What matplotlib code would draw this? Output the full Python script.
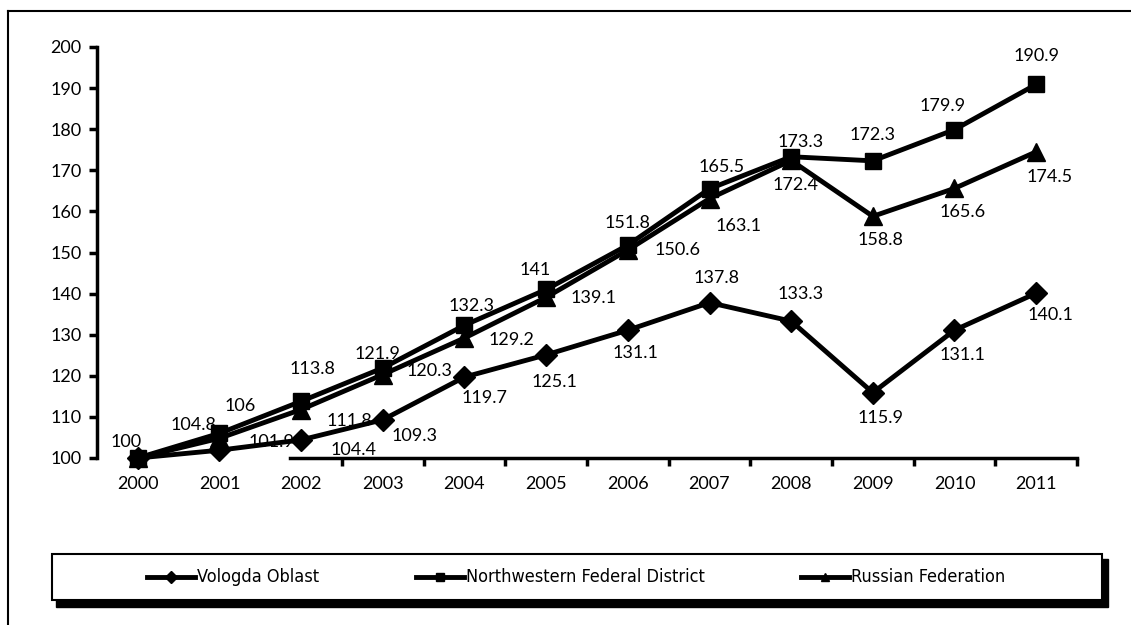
import matplotlib.pyplot as plt
from matplotlib.lines import Line2D
from matplotlib.patches import Rectangle

# Datos
years = ['2000', '2001', '2002', '2003', '2004', '2005', '2006', '2007', '2008', '2009', '2010', '2011']
vologda = [100, 101.9, 104.4, 109.3, 119.7, 125.1, 131.1, 137.8, 133.3, 115.9, 131.1, 140.1]
nwfd = [100, 106, 113.8, 121.9, 132.3, 141, 151.8, 165.5, 173.3, 172.3, 179.9, 190.9]
russia = [100, 104.8, 111.8, 120.3, 129.2, 139.1, 150.6, 163.1, 172.4, 158.8, 165.6, 174.5]
names = ['Vologda Oblast', 'Northwestern Federal District', 'Russian Federation']
markers = ['D', 's', '^']

# desplazamiento de cada etiqueta (pixeles)
off_vologda = [None, (52, 8), (52, -10), (32, -16), (20, -21), (8, -27), (8, -23),
               (7, 25), (9, 27), (8, -25), (8, -25), (14, -22)]
off_nwfd = [(-12, 16), (21, 27), (11, 32), (-5, 14), (7, 19), (-11, 19), (0, 22),
            (12, 22), (9, 15), (0, 26), (-12, 24), (0, 28)]
off_russia = [None, (-26, 13), (48, -11), (47, 4), (47, -2), (47, -1), (50, 0),
              (29, -27), (4, -25), (8, -24), (8, -24), (13, -25)]

W, H = 1131, 625
font = 'Lato'
fig = plt.figure(figsize=(W / 100, H / 100), dpi=100)
ax = fig.add_axes([97 / W, 1 - 458 / H, 980 / W, 411 / H])

x = list(range(len(years)))
sizes = [11, 11, 13]
for vals, m, s in zip([vologda, nwfd, russia], markers, sizes):
    ax.plot(x, vals, color='black', lw=3.5, marker=m, ms=s, clip_on=False, zorder=3)

for vals, offs in [(vologda, off_vologda), (nwfd, off_nwfd), (russia, off_russia)]:
    for i, v in enumerate(vals):
        if offs[i] is None:
            continue
        ax.annotate(f'{v:g}', (i, v), xytext=offs[i], textcoords='offset pixels',
                    ha='center', va='center', fontsize=13, family=font, zorder=2)

ax.set_xlim(-0.5, 11.5)
ax.set_ylim(100, 200)
ax.set_yticks(range(100, 201, 10))
# el eje x aparece cortado a la izquierda en el original
ax.spines['bottom'].set_bounds(1.86, 11.5)
ax.set_xticks([i + 0.5 for i in range(2, 12)])
ax.set_xticklabels([])
ax.set_xticks(x, minor=True)
ax.set_xticklabels(years, minor=True)
ax.tick_params(axis='x', which='minor', length=0, pad=13, labelsize=13)
ax.tick_params(axis='x', which='major', length=6, width=2.5, direction='out')
ax.tick_params(axis='y', length=6, width=2.5, direction='out', labelsize=13, pad=5)
for lab in ax.get_xticklabels(minor=True) + ax.get_yticklabels():
    lab.set_family(font)
for s in ['top', 'right']:
    ax.spines[s].set_visible(False)
for s in ['left', 'bottom']:
    ax.spines[s].set_linewidth(2.5)

# marco exterior (cortado a la derecha y abajo)
fig.add_artist(Line2D([8 / W, 8 / W], [0, 1 - 11 / H], color='black', lw=1.5))
fig.add_artist(Line2D([8 / W, 1], [1 - 11 / H, 1 - 11 / H], color='black', lw=1.5))

# caja de la leyenda con sombra
lx0, lx1, ly0, ly1 = 52, 1102, 554, 600
fig.add_artist(Rectangle(((lx0 + 4) / W, 1 - (ly1 + 7) / H), (lx1 - lx0 + 2) / W,
                         (ly1 - ly0 + 2) / H, facecolor='black', edgecolor='black'))
fig.add_artist(Rectangle((lx0 / W, 1 - ly1 / H), (lx1 - lx0) / W, (ly1 - ly0) / H,
                         facecolor='white', edgecolor='black', lw=1.5))

# elementos de la leyenda
text_x = [197, 466, 851]
ymid = 1 - 577 / H
for tx, name, m in zip(text_x, names, markers):
    fig.add_artist(Line2D([(tx - 50) / W, (tx - 2) / W], [ymid, ymid], color='black', lw=3.5))
    fig.add_artist(Line2D([(tx - 26) / W], [ymid], color='black', marker=m, ms=6))
    fig.text(tx / W, ymid, name, ha='left', va='center', fontsize=13,
             family=['DejaVu Sans'], stretch='condensed')

fig.savefig('out.png', dpi=100)
